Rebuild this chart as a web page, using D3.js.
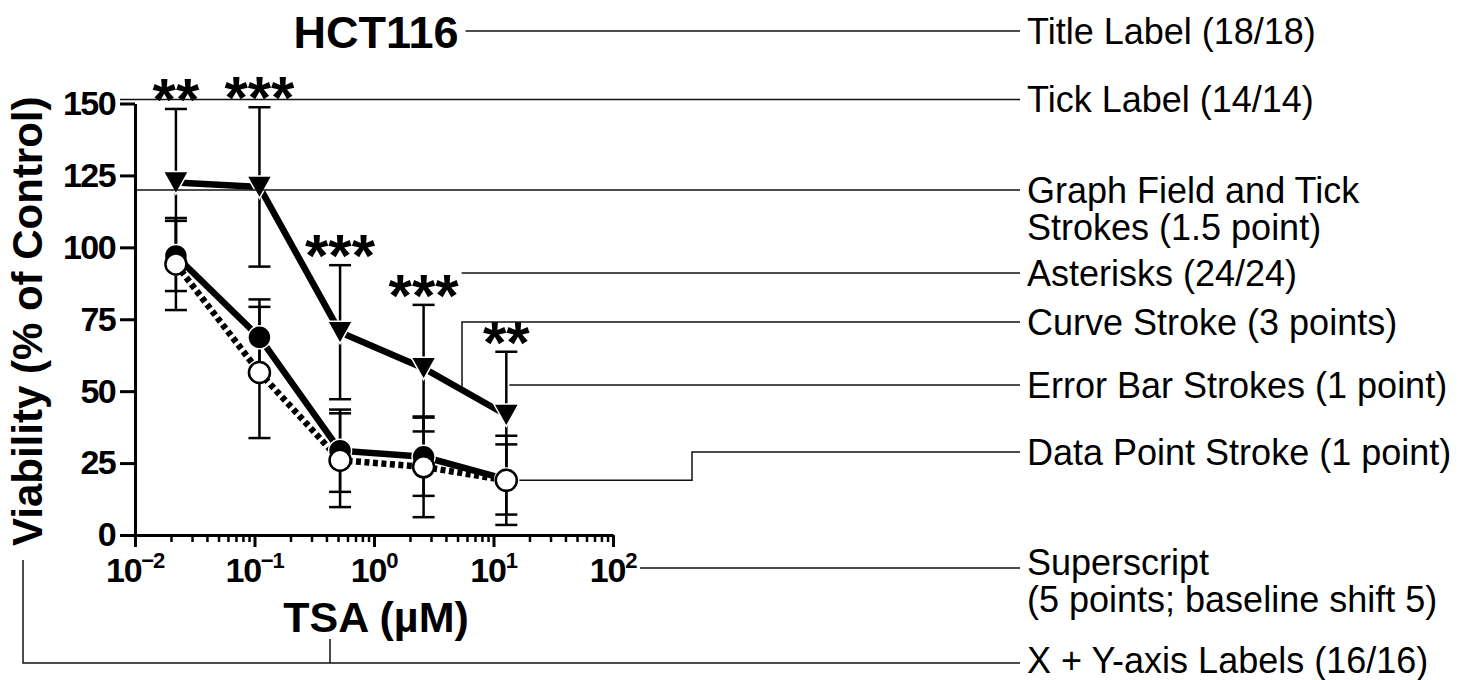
<!DOCTYPE html>
<html>
<head>
<meta charset="utf-8">
<script src="https://cdn.jsdelivr.net/npm/d3@7"></script>
<style>
body{margin:0;background:#fff;}
text{font-family:"Liberation Sans",Arial,Helvetica,sans-serif;fill:#000;}
</style>
</head>
<body>
<div id="chart"></div>
<script>
// TSA dose (uM) and viability, % of control
var conc=[0.022,0.11,0.52,2.6,12.8];
var triMean=[122.5,121,70.5,58,41.7];
var triSD=[25.6,27.7,23.3,22,22];
var fillMean=[97,68.7,29.3,27.2,19.3];
var fillSD=[12.2,13.2,14.3,13.6,12.2];
var openMean=[94.2,56.5,26,23.7,19];
var openSD=[16,22.8,16.3,17.5,15.5];
var stars=["**","***","***","***","**"];
var yTicks=[0,25,50,75,100,125,150];
var xDecades=[-2,-1,0,1,2];
var noteText=[["Title Label (18/18)"],["Tick Label (14/14)"],["Graph Field and Tick","Strokes (1.5 point)"],
  ["Asterisks (24/24)"],["Curve Stroke (3 points)"],["Error Bar Strokes (1 point)"],["Data Point Stroke (1 point)"],
  ["Superscript","(5 points; baseline shift 5)"],["X + Y-axis Labels (16/16)"]];

var W=1481,H=680;
var svg=d3.select("#chart").append("svg").attr("width",W).attr("height",H);

var x=d3.scaleLog().domain([0.01,100]).range([135,613]);
var y=d3.scaleLinear().domain([0,150]).range([535,103.5]);

function series(m,s){
  return conc.map(function(c,i){return {c:c,m:m[i],s:s[i]};});
}
var tri=series(triMean,triSD), full=series(fillMean,fillSD), open=series(openMean,openSD);

// y axis
var gy=svg.append("g").attr("transform","translate("+x(0.01)+",0)")
  .call(d3.axisLeft(y).tickValues(yTicks).tickSize(15).tickSizeOuter(0).tickPadding(5).tickFormat(d3.format("d")));
gy.select(".domain").attr("stroke","#000").attr("stroke-width",3);
gy.selectAll(".tick line").attr("stroke","#000").attr("stroke-width",3);
gy.selectAll(".tick text").attr("font-size",34).attr("font-weight","bold").attr("letter-spacing",-1.6)
  .style("font-family","Liberation Sans, Arial, sans-serif");

// x axis: minor then major ticks
var minor=[];
xDecades.slice(0,-1).forEach(function(e){
  for(var k=2;k<10;k++) minor.push(k*Math.pow(10,e));
});
var gxm=svg.append("g").attr("transform","translate(0,"+y(0)+")")
  .call(d3.axisBottom(x).tickValues(minor).tickSize(7).tickSizeOuter(0).tickFormat(""));
gxm.select(".domain").attr("stroke","#000").attr("stroke-width",3);
gxm.selectAll(".tick line").attr("stroke","#000").attr("stroke-width",2.5);
var gx=svg.append("g").attr("transform","translate(0,"+y(0)+")")
  .call(d3.axisBottom(x).tickValues(xDecades.map(function(e){return Math.pow(10,e);})).tickSize(12).tickSizeOuter(0).tickFormat(""));
gx.select(".domain").remove();
gx.selectAll(".tick line").attr("stroke","#000").attr("stroke-width",3);

var xl=svg.append("g").selectAll("text").data(xDecades).enter().append("text")
  .attr("x",function(e){return x(Math.pow(10,e));})
  .attr("y",y(0)+47)
  .attr("text-anchor","middle")
  .attr("font-weight","bold").attr("font-size",34).attr("letter-spacing",-1.2);
xl.append("tspan").text("10");
xl.append("tspan").attr("font-size",22).attr("dy",-14)
  .text(function(e){return e<0?"\u2212"+(-e):String(e);});

// error bars
var allSeries=[tri,full,open];
var eb=svg.append("g").attr("stroke","#000").attr("stroke-width",2.5);
allSeries.forEach(function(s){
  s.forEach(function(d){
    var cx=x(d.c);
    eb.append("line").attr("x1",cx).attr("x2",cx).attr("y1",y(d.m-d.s)).attr("y2",y(d.m+d.s));
    [d.m-d.s,d.m+d.s].forEach(function(v){
      eb.append("line").attr("x1",cx-11).attr("x2",cx+11).attr("y1",y(v)).attr("y2",y(v));
    });
  });
});

// curves
var line=d3.line().x(function(d){return x(d.c);}).y(function(d){return y(d.m);});
svg.append("path").datum(open).attr("d",line).attr("fill","none").attr("stroke","#000")
  .attr("stroke-width",6.5).attr("stroke-dasharray","5,3.5");
svg.append("path").datum(full).attr("d",line).attr("fill","none").attr("stroke","#000").attr("stroke-width",6.5);
svg.append("path").datum(tri).attr("d",line).attr("fill","none").attr("stroke","#000").attr("stroke-width",6.5);

// symbols
svg.append("g").selectAll("circle").data(full).enter().append("circle")
  .attr("cx",function(d){return x(d.c);}).attr("cy",function(d){return y(d.m);})
  .attr("r",11.5).attr("fill","#000").attr("stroke","#fff").attr("stroke-width",1.5);
svg.append("g").selectAll("circle").data(open).enter().append("circle")
  .attr("cx",function(d){return x(d.c);}).attr("cy",function(d){return y(d.m);})
  .attr("r",10.5).attr("fill","#fff").attr("stroke","#000").attr("stroke-width",2.5);
svg.append("g").selectAll("path").data(tri).enter().append("path")
  .attr("transform",function(d){return "translate("+x(d.c)+","+y(d.m)+")";})
  .attr("d","M-12.5,-11L12.5,-11L0,11.5Z")
  .attr("fill","#000").attr("stroke","#fff").attr("stroke-width",1.5).attr("stroke-linejoin","miter");

// asterisks above the triangle error bars
svg.append("g").selectAll("text").data(tri).enter().append("text")
  .attr("x",function(d){return x(d.c);})
  .attr("y",function(d,i){return y(d.m+d.s)-22+33;})
  .attr("text-anchor","middle").attr("font-weight","bold").attr("font-size",60)
  .text(function(d,i){return stars[i];});

// titles
var midX=(x(0.01)+x(100))/2;
var title=svg.append("text").attr("x",midX+2).attr("y",48).attr("text-anchor","middle")
  .attr("font-weight","bold").attr("font-size",45).text("HCT116");
svg.append("text").attr("x",midX+2).attr("y",632).attr("text-anchor","middle")
  .attr("font-weight","bold").attr("font-size",43).text("TSA (\u00b5M)");
svg.append("text").attr("transform","translate(42,"+((y(0)+y(150))/2+2)+") rotate(-90)")
  .attr("text-anchor","middle").attr("font-weight","bold").attr("font-size",42)
  .text("Viability (% of Control)");

// annotation callouts
var noteX=1027, lineEnd=1020;
var noteY=[31,99.5,190,273,322,385,452,562,660];
var tb=title.node().getBBox();
var triPx=tri.map(function(d){return [x(d.c),y(d.m)];});
var cx=462, t=(cx-triPx[3][0])/(triPx[4][0]-triPx[3][0]);
var curveY=triPx[3][1]+t*(triPx[4][1]-triPx[3][1])-3;
var lastOpen=open[open.length-1];
var leaders=[
  [[tb.x+tb.width+7,31],[lineEnd,31]],
  [[x(0.01)-15,99.5],[lineEnd,99.5]],
  [[x(0.01)+2,190],[lineEnd,190]],
  [[x(conc[3])+38,273],[lineEnd,273]],
  [[cx,curveY],[cx,322],[lineEnd,322]],
  [[x(conc[4])+3,385],[lineEnd,385]],
  [[x(lastOpen.c)+13,y(lastOpen.m)],[692,y(lastOpen.m)],[692,452],[lineEnd,452]],
  [[x(100)+27,568],[lineEnd,568]],
  [[23,560],[23,663],[lineEnd,663]],
  [[midX-44,639],[midX-44,663]]
];
var pl=d3.line();
svg.append("g").selectAll("path").data(leaders).enter().append("path")
  .attr("d",pl).attr("fill","none").attr("stroke","#111").attr("stroke-width",1.5);

noteText.forEach(function(lines,i){
  lines.forEach(function(s,j){
    svg.append("text").attr("x",noteX).attr("y",noteY[i]+j*37).attr("dy","0.36em")
      .attr("font-size",36).text(s);
  });
});
</script>
</body>
</html>
